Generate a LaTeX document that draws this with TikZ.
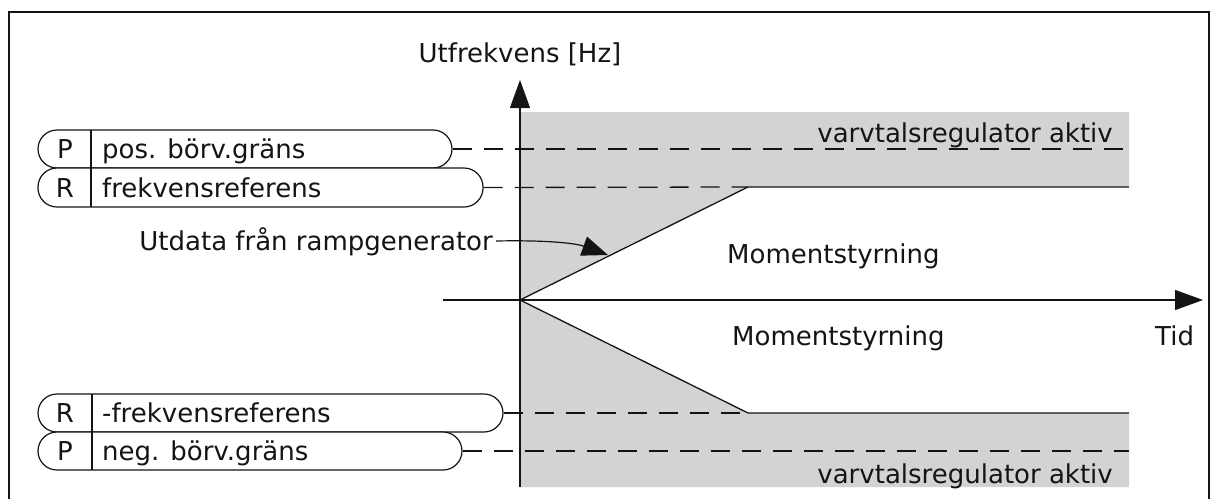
\documentclass[tikz,border=0pt]{standalone}
\usepackage{fontspec}
\setmainfont{DejaVu Sans}
\usetikzlibrary{arrows.meta}
\definecolor{areagray}{RGB}{210,211,213}
\definecolor{ink}{RGB}{20,20,20}
\tikzset{
  pill/.style={draw=ink, line width=1.2pt, rounded corners=19pt, rectangle, inner sep=0pt, fill=white},
  lbl/.style={inner sep=0pt, font=\fontsize{26}{31}\selectfont, text=ink},
  dashline/.style={draw=ink, line width=1.3pt, dash pattern=on 19pt off 12pt},
  solid line/.style={draw=ink, line width=1.3pt},
  axis/.style={draw=ink, line width=1.3pt, -{Triangle[length=28pt,width=20pt]}},
}
\begin{document}
\begin{tikzpicture}[x=1pt,y=-1pt]
\useasboundingbox (0,0) rectangle (1211,499);
% frame
\draw[ink, line width=1.5pt] (9,499) -- (9,12) -- (1209,12) -- (1209,499);
% shaded regions
\fill[areagray] (520,112) -- (1129,112) -- (1129,187) -- (748,187) -- (520,300) -- cycle;
\fill[areagray] (520,300) -- (748,413) -- (1129,413) -- (1129,487) -- (520,487) -- cycle;
% coordinates
\coordinate (o) at (520,300);
\coordinate (ytop) at (520,80);
\coordinate (ybot) at (520,487);
\coordinate (xl) at (443,300);
\coordinate (xr) at (1203,300);
\coordinate (ru) at (748,187);
\coordinate (rue) at (1129,187);
\coordinate (rd) at (748,413);
\coordinate (rde) at (1129,413);
\coordinate (pe) at (1129,149);
\coordinate (ne) at (1129,451);
% pills
\node[pill, minimum width=414pt, minimum height=38pt] (pP) at (245,149) {};
\node[pill, minimum width=445pt, minimum height=39pt] (pR) at (260.5,187.5) {};
\node[pill, minimum width=465pt, minimum height=38pt] (nR) at (270.5,413) {};
\node[pill, minimum width=424pt, minimum height=38pt] (nP) at (250,451) {};
\draw[ink, line width=1.2pt] (91,130) -- (91,207);
\draw[ink, line width=1.2pt] (92,394) -- (92,470);
\node[lbl, anchor=base] (tP1) at (65,158) {P};
\node[lbl, anchor=base west] (tP2) at (102,158) {pos. börv.gräns};
\node[lbl, anchor=base] (tR1) at (65,197) {R};
\node[lbl, anchor=base west] (tR2) at (102,197) {frekvensreferens};
\node[lbl, anchor=base] (tR3) at (65,422) {R};
\node[lbl, anchor=base west] (tR4) at (102,422) {-frekvensreferens};
\node[lbl, anchor=base] (tP3) at (65,460) {P};
\node[lbl, anchor=base west] (tP4) at (102,460) {neg. börv.gräns};
% dashed lines
\draw[dashline] (pP.east) -- (pe);
\draw[dashline] (pR.east) -- (ru);
\draw[dashline] (nR.east) -- (rd);
\draw[dashline] (nP.east) -- (ne);
% ramps
\draw[solid line] (o) -- (ru) -- (rue);
\draw[solid line] (o) -- (rd) -- (rde);
% axes
\draw[axis] (ybot) -- (ytop);
\draw[axis] (xl) -- (xr);
% labels
\node[lbl, anchor=base] (yl) at (520,62) {Utfrekvens [Hz]};
\node[lbl, anchor=base east] (va1) at (1113,142) {varvtalsregulator aktiv};
\node[lbl, anchor=base east] (va2) at (1113,483) {varvtalsregulator aktiv};
\node[lbl, anchor=base west] (m1) at (727,263) {Momentstyrning};
\node[lbl, anchor=base west] (m2) at (732,345) {Momentstyrning};
\node[lbl, anchor=base west] (tid) at (1155,345) {Tid};
\node[lbl, anchor=base east] (ud) at (493,250) {Utdata från rampgenerator};
\coordinate (us) at (496,241);
\coordinate (tip) at (608,255);
\draw[ink, line width=1.2pt, -{Triangle[length=26pt,width=20pt]}] (us) .. controls (545,240) and (575,243) .. (tip);
\end{tikzpicture}
\end{document}
